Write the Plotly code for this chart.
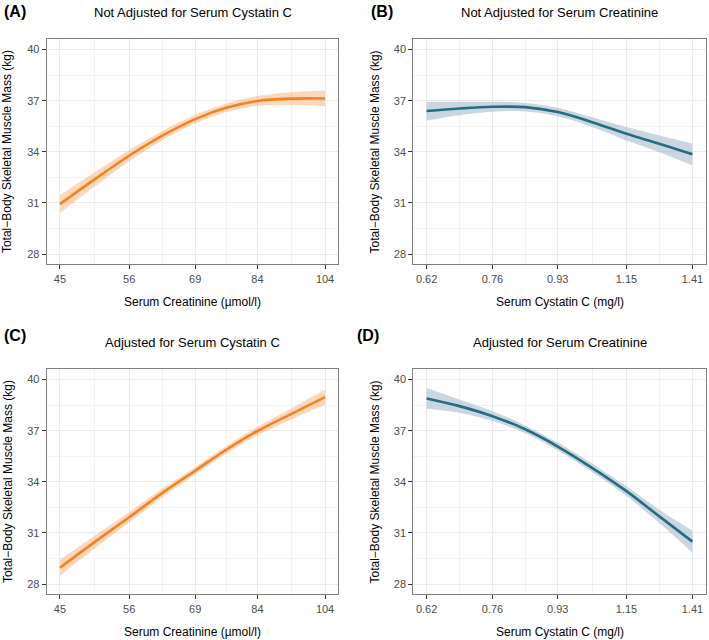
import math
import plotly.graph_objects as go

W, H = 709, 640

# ---------------- data ----------------
creat_x = [45, 50.2, 56, 62.2, 69, 76.1, 84, 93.5, 104]
cys_x = [0.62, 0.686, 0.76, 0.841, 0.93, 1.034, 1.15, 1.273, 1.41]

a_mean = [30.93, 32.38, 33.77, 34.95, 35.92, 36.58, 36.98, 37.12, 37.13]
a_half = [0.53, 0.42, 0.32, 0.27, 0.25, 0.25, 0.30, 0.38, 0.47]

b_mean = [36.39, 36.54, 36.64, 36.62, 36.33, 35.74, 35.06, 34.47, 33.85]
b_half = [0.55, 0.39, 0.29, 0.25, 0.25, 0.29, 0.39, 0.49, 0.64]

c_mean = [28.96, 30.46, 31.92, 33.35, 34.65, 35.88, 36.98, 37.99, 38.97]
c_half = [0.48, 0.38, 0.30, 0.25, 0.22, 0.22, 0.25, 0.33, 0.45]

d_mean = [38.89, 38.44, 37.85, 37.08, 36.07, 34.82, 33.45, 31.97, 30.49]
d_half = [0.61, 0.39, 0.29, 0.23, 0.23, 0.25, 0.29, 0.39, 0.65]

creat_ticks = [45, 56, 69, 84, 104]
cys_ticks = [0.62, 0.76, 0.93, 1.15, 1.41]
y_ticks = [28, 31, 34, 37, 40]
y_minor = [29.5, 32.5, 35.5, 38.5]

titles = ["Not Adjusted for Serum Cystatin C", "Not Adjusted for Serum Creatinine",
          "Adjusted for Serum Cystatin C", "Adjusted for Serum Creatinine"]
tags = ["(A)", "(B)", "(C)", "(D)"]
xtitles = ["Serum Creatinine (µmol/l)", "Serum Cystatin C (mg/l)",
           "Serum Creatinine (µmol/l)", "Serum Cystatin C (mg/l)"]
ytitle = "Total\u2212Body Skeletal Muscle Mass (kg)"

ORANGE = "#F5821F"
ORANGE_BAND = "rgba(245,130,32,0.30)"
TEAL = "#236E82"
TEAL_BAND = "rgba(160,182,199,0.55)"

# ---------------- layout geometry (pixels) ----------------
col_x = [(46.7, 338.3), (413.3, 705.7)]
row_y = [(39.3, 264.3), (369.3, 594.3)]

FONT = "Liberation Sans, Arial, Helvetica, sans-serif"

fig = go.Figure()

panels = [
    (creat_x, a_mean, a_half, ORANGE, ORANGE_BAND, creat_ticks, 0, 0),
    (cys_x, b_mean, b_half, TEAL, TEAL_BAND, cys_ticks, 1, 0),
    (creat_x, c_mean, c_half, ORANGE, ORANGE_BAND, creat_ticks, 0, 1),
    (cys_x, d_mean, d_half, TEAL, TEAL_BAND, cys_ticks, 1, 1),
]

annotations = []
for i, (xs, ys, hw, col, band, ticks, c, r) in enumerate(panels):
    n = i + 1
    xa = "x" if n == 1 else f"x{n}"
    ya = "y" if n == 1 else f"y{n}"
    upper = [m + h for m, h in zip(ys, hw)]
    lower = [m - h for m, h in zip(ys, hw)]
    fig.add_trace(go.Scatter(
        x=xs, y=lower, mode="lines", line=dict(width=0, shape="spline"),
        hoverinfo="skip", showlegend=False, xaxis=xa, yaxis=ya))
    fig.add_trace(go.Scatter(
        x=xs, y=upper, mode="lines", fill="tonexty", fillcolor=band,
        line=dict(width=0, shape="spline"),
        hoverinfo="skip", showlegend=False, xaxis=xa, yaxis=ya))
    fig.add_trace(go.Scatter(
        x=xs, y=ys, mode="lines", line=dict(color=col, width=2.6, shape="spline"),
        showlegend=False, xaxis=xa, yaxis=ya))

    x0, x1 = col_x[c]
    y0, y1 = row_y[r]
    lo, hi = math.log10(ticks[0]), math.log10(ticks[-1])
    pad = 0.05 * (hi - lo)
    minor_x = [math.sqrt(ticks[k] * ticks[k + 1]) for k in range(len(ticks) - 1)]

    xkey = "xaxis" if n == 1 else f"xaxis{n}"
    ykey = "yaxis" if n == 1 else f"yaxis{n}"
    fig.update_layout(**{
        xkey: dict(
            type="log", domain=[x0 / W, x1 / W], anchor=ya,
            range=[lo - pad, hi + pad],
            tickmode="array", tickvals=ticks, ticktext=[str(t) for t in ticks],
            ticks="outside", ticklen=4, tickwidth=1, tickcolor="#333333",
            tickfont=dict(size=11, color="#4D4D4D", family=FONT),
            showgrid=True, gridcolor="#EBEBEB", gridwidth=1,
            minor=dict(tickmode="array", tickvals=minor_x, showgrid=True,
                       gridcolor="#F3F3F3", gridwidth=1, ticks=""),
            showline=True, mirror=True, linecolor="#7F7F7F", linewidth=1,
            zeroline=False, fixedrange=True),
        ykey: dict(
            domain=[1 - y1 / H, 1 - y0 / H], anchor=xa,
            range=[27.4, 40.6],
            tickmode="array", tickvals=y_ticks,
            ticks="outside", ticklen=4, tickwidth=1, tickcolor="#333333",
            tickfont=dict(size=11, color="#4D4D4D", family=FONT),
            showgrid=True, gridcolor="#EBEBEB", gridwidth=1,
            minor=dict(tickmode="array", tickvals=y_minor, showgrid=True,
                       gridcolor="#F3F3F3", gridwidth=1, ticks=""),
            showline=True, mirror=True, linecolor="#7F7F7F", linewidth=1,
            zeroline=False, fixedrange=True),
    })

    cx = (x0 + x1) / 2
    cy = (y0 + y1) / 2
    top = 12.7 if r == 0 else 342.7
    tag_x = [1.7, 369][c] if r == 0 else [1.7, 355][c]
    tag_y = 11.5 if r == 0 else 335.7
    xt_y = 301.7 if r == 0 else 631.7
    yt_x = 7.3 if c == 0 else 374.7

    annotations += [
        dict(text=f"<b>{tags[i]}</b>", x=tag_x / W, y=1 - tag_y / H, xref="paper", yref="paper",
             xanchor="left", yanchor="middle", showarrow=False,
             font=dict(size=16, color="#000000", family=FONT)),
        dict(text=titles[i], x=cx / W, y=1 - top / H, xref="paper", yref="paper",
             xanchor="center", yanchor="middle", showarrow=False,
             font=dict(size=13, color="#000000", family=FONT)),
        dict(text=xtitles[i], x=cx / W, y=1 - xt_y / H, xref="paper", yref="paper",
             xanchor="center", yanchor="middle", showarrow=False,
             font=dict(size=12, color="#000000", family=FONT)),
        dict(text=ytitle, x=yt_x / W, y=1 - cy / H, xref="paper", yref="paper",
             xanchor="center", yanchor="middle", showarrow=False, textangle=-90,
             font=dict(size=12, color="#000000", family=FONT)),
    ]

fig.update_layout(
    width=W, height=H, margin=dict(l=0, r=0, t=0, b=0),
    paper_bgcolor="white", plot_bgcolor="white",
    annotations=annotations, showlegend=False,
    font=dict(family=FONT),
)

fig.write_html("out.html", config={"displayModeBar": False},
               post_script="document.body.style.margin='0';document.body.style.padding='0';")
